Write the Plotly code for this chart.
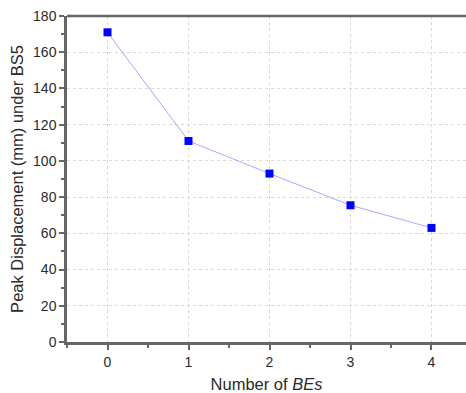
import plotly.graph_objects as go

num_bes = [0, 1, 2, 3, 4]
peak_disp = [171, 111, 93, 75.5, 63]
y_ticks = [0, 20, 40, 60, 80, 100, 120, 140, 160, 180]
x_ticks = [0, 1, 2, 3, 4]

fig = go.Figure()
fig.add_trace(go.Scatter(
    x=num_bes, y=peak_disp, mode="lines+markers",
    line=dict(color="#a8a8ff", width=1),
    marker=dict(symbol="square", size=8, color="#0000ff"),
    showlegend=False, cliponaxis=False,
))

tick_font = dict(family="Liberation Sans, Arial, sans-serif", size=14, color="#2a2a2a")
title_font = dict(family="Liberation Sans, Arial, sans-serif", size=16.5, color="#2a2a2a")
fig.update_layout(
    width=466, height=393,
    margin=dict(l=67, r=0, t=16, b=51),
    plot_bgcolor="white", paper_bgcolor="white",
    font=tick_font,
    shapes=[dict(type="line", xref="paper", yref="paper", x0=0, x1=1, y0=1, y1=1,
                 line=dict(color="#666666", width=2.5), layer="above")],
)
fig.update_xaxes(
    range=[-0.5, 4.426], tickvals=x_ticks, ticks="outside", ticklen=5, tickwidth=2,
    tickcolor="#666666", showline=True, linecolor="#666666", linewidth=2.5,
    showgrid=True, gridcolor="#d8d8d8", griddash="dot", gridwidth=1, zeroline=False,
    minor=dict(dtick=0.5, ticks="outside", ticklen=3, tickwidth=2, tickcolor="#666666", showgrid=False),
    title=dict(text="Number of <i>BEs</i>", font=title_font, standoff=12),
    tickfont=tick_font,
)
fig.update_yaxes(
    range=[0, 180], tickvals=y_ticks, ticks="outside", ticklen=5, tickwidth=2,
    tickcolor="#666666", showline=True, linecolor="#666666", linewidth=2.5,
    showgrid=True, gridcolor="#d8d8d8", griddash="dot", gridwidth=1, zeroline=False,
    minor=dict(dtick=10, ticks="outside", ticklen=3, tickwidth=2, tickcolor="#666666", showgrid=False),
    title=dict(text="Peak Displacement (mm) under BS5", font=title_font, standoff=6),
    tickfont=tick_font,
)

fig.write_html("out.html")
